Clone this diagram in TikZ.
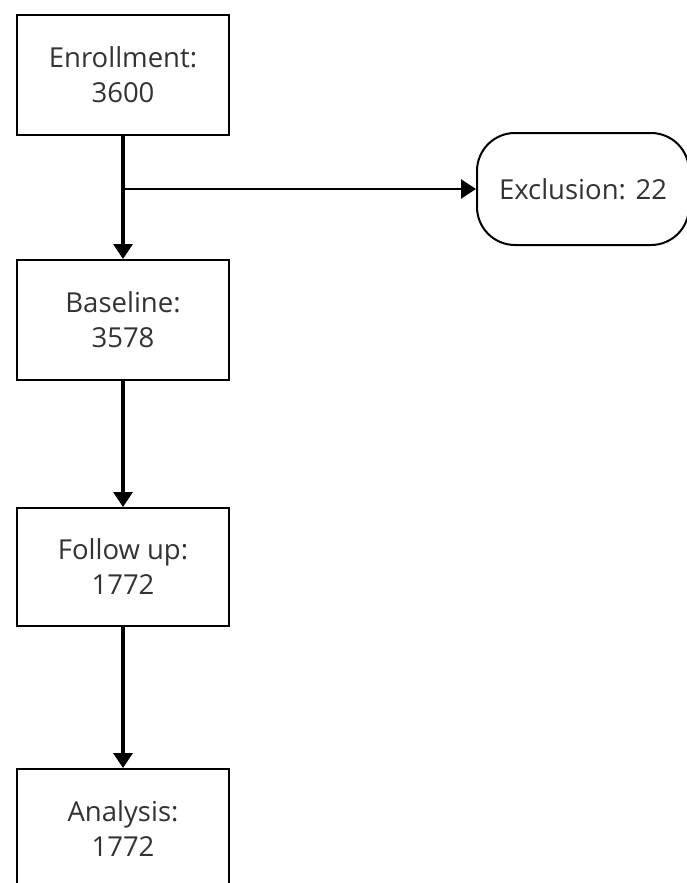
\documentclass[tikz,border=0pt]{standalone}
\usepackage{fontspec}
\setmainfont{Open Sans}
\usetikzlibrary{arrows.meta}
\begin{document}
\begin{tikzpicture}[x=1pt,y=-1pt,
  box/.style={draw=black,line width=2pt,fill=white,minimum width=212pt,minimum height=120pt,
    align=center,font=\fontsize{27.5}{35}\selectfont,text=black!80,inner sep=0pt},
  ex/.style={box,rounded corners=38pt,minimum height=112pt},
  conn/.style={line width=3.5pt,-{Triangle[length=15pt,width=19pt]}}]
\useasboundingbox (0,0) rectangle (687,883);
\clip (0,0) rectangle (687,883);
\node[box] (enr) at (123,75) {Enrollment:\\3600};
\node[box] (base) at (123,320) {Baseline:\\3578};
\node[box,minimum height=118pt] (fol) at (123,567) {Follow up:\\1772};
\node[box] (ana) at (123,829) {Analysis:\\1772};
\node[ex] (exc) at (583,189) {Exclusion: 22};
\coordinate (br) at (enr.south |- exc.west);
\draw[conn] (enr.south) -- (base.north);
\draw[line width=2.5pt,-{Triangle[length=15pt,width=19pt]}] (br) -- (exc.west);
\draw[conn] (base.south) -- (fol.north);
\draw[conn] (fol.south) -- (ana.north);
\end{tikzpicture}
\end{document}
